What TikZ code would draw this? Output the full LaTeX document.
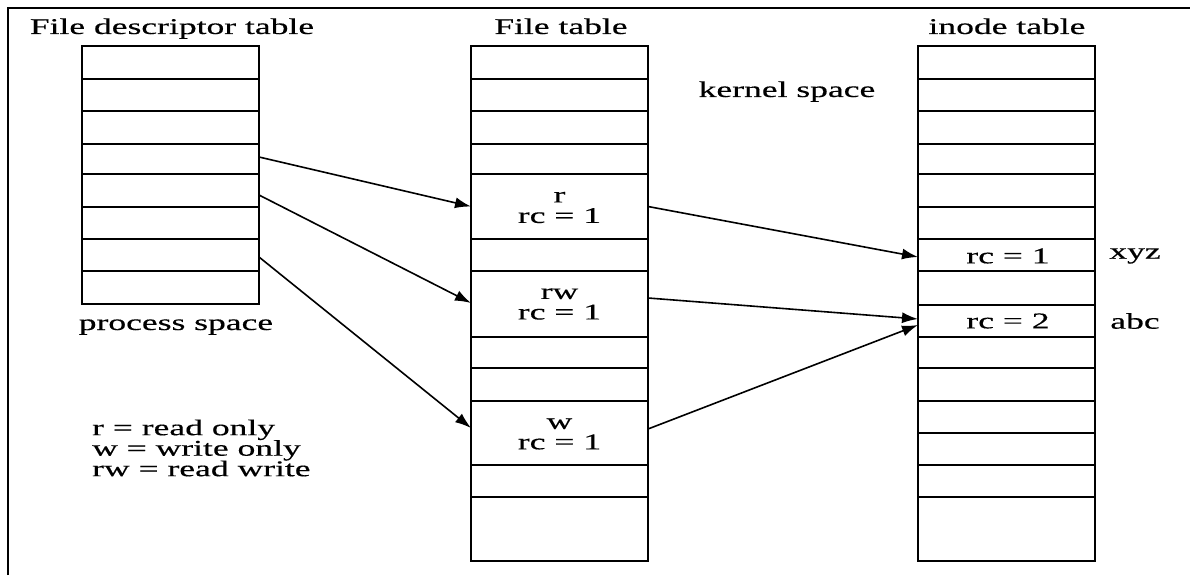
\documentclass[tikz,border=0pt]{standalone}
\usepackage{fontspec}
\setmainfont{Liberation Serif}[FakeStretch=1.58,FakeBold=0.4]
\usetikzlibrary{arrows.meta}
\begin{document}
\begin{tikzpicture}[x=1pt,y=-1pt,
  cell/.style={draw, line width=1.9pt, minimum width=177pt, inner sep=0pt, outer sep=0pt},
  outer/.style={draw, line width=2.7pt},
  txt/.style={font=\fontsize{22.5}{20.5}\selectfont, inner sep=0pt},
  conn/.style={line width=1.6pt, -{Latex[length=16pt,width=11pt]}},
  frame/.style={line width=2.2pt}]
\useasboundingbox (0,0) rectangle (1190,575);
\fill[white] (0,0) rectangle (1190,575);
% outer frame
\draw[frame] (8,575) -- (8,8) -- (1190,8);
% file descriptor table
\foreach \a/\b [count=\i] in {46/79,79/111,111/144,144/174,174/207,207/239,239/271,271/304}
  \node[cell, minimum height={(\b-\a)*1pt}] (fd-\i) at (170.5,{(\a+\b)/2}) {};
\draw[outer] (fd-1.north west) rectangle (fd-8.south east);
% file table
\foreach \a/\b [count=\i] in {46/79,79/111,111/144,144/174,174/239,239/271,271/337,337/368,368/401,401/465,465/497,497/561}
  \node[cell, minimum height={(\b-\a)*1pt}] (ft-\i) at (559.5,{(\a+\b)/2}) {};
\draw[outer] (ft-1.north west) rectangle (ft-12.south east);
% inode table
\foreach \a/\b [count=\i] in {46/79,79/111,111/144,144/174,174/207,207/239,239/271,271/305,305/337,337/368,368/401,401/433,433/465,465/497,497/561}
  \node[cell, minimum height={(\b-\a)*1pt}] (in-\i) at (1006.5,{(\a+\b)/2}) {};
\draw[outer] (in-1.north west) rectangle (in-15.south east);
% titles
\node[txt, anchor=base] (tfd) at (172,34) {File descriptor table};
\node[txt, anchor=base] (tft) at (561,34) {File table};
\node[txt, anchor=base] (tin) at (1007,34) {inode table};
\node[txt, anchor=base] (kern) at (787,97) {kernel space};
\node[txt, anchor=base] (proc) at (176,330) {process space};
% legend
\node[txt, anchor=west, align=left] (leg) at (92,448) {r = read only\\w = write only\\rw = read write};
% entries
\node[txt, align=center] (lr) at ([yshift=-1pt]ft-5) {r\\rc = 1};
\node[txt, align=center] (lrw) at (ft-7) {rw\\rc = 1};
\node[txt, align=center] (lw) at ([yshift=-1pt]ft-10) {w\\rc = 1};
\node[txt] (ix) at (1008,256) {rc = 1};
\node[txt] (ia) at (1008,321) {rc = 2};
\node[txt] (nx) at (1135,256) {xyz};
\node[txt] (na) at (1135,321) {abc};
% connectors
\draw[conn] ([yshift=2pt]fd-4.east) -- (ft-5.west);
\draw[conn] ([yshift=-4.5pt]fd-5.east) -- ([yshift=1pt]ft-7.west);
\draw[conn] ([yshift=-2pt]fd-7.east) -- ([yshift=5pt]ft-10.west);
\draw[conn] (ft-5.east) -- ([yshift=-2pt]in-7.west);
\draw[conn] ([yshift=6pt]ft-7.east) -- ([yshift=2pt]in-9.west);
\draw[conn] ([yshift=4pt]ft-10.east) -- ([yshift=-4pt]in-9.west);
\end{tikzpicture}
\end{document}
